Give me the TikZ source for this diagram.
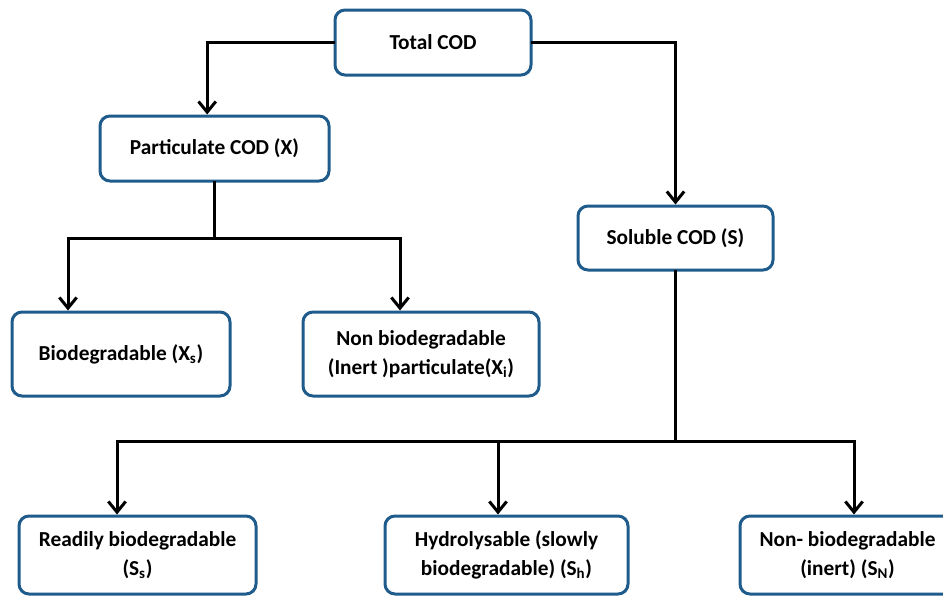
\documentclass[tikz,border=0pt]{standalone}
\usepackage{fontspec}
\setmainfont{Carlito}
\usetikzlibrary{arrows.meta}
\definecolor{boxblue}{RGB}{31,92,140}
\tikzset{every picture/.style={line width=0.75pt}}
\tikzset{
	codbox/.style={draw=boxblue, line width=2.25pt, rounded corners=7.5pt, fill=white, align=center, inner sep=0pt, font=\fontsize{16}{21.5}\selectfont\bfseries},
	bus/.style={line width=2.25pt, line cap=rect},
	flow/.style={bus, -{Straight Barb[length=8pt,width=13pt]}}}

\begin{document}
\begin{tikzpicture}[x=0.75pt,y=0.75pt,yscale=-1,xscale=1]
	\useasboundingbox (0,0) rectangle (943,596);

	% Text Node
	\node[codbox, minimum width=147pt, minimum height=48.75pt] (total) at (433,42.5) {Total COD};
	% Text Node
	\node[codbox, minimum width=171.75pt, minimum height=48.75pt] (partic) at (214.5,148.5) {Particulate COD (X)};
	% Text Node
	\node[codbox, minimum width=146.25pt, minimum height=48pt] (soluble) at (675.5,238) {Soluble COD (S)};
	% Text Node
	\node[codbox, minimum width=163.5pt, minimum height=63pt] (bio) at (121,354) {Biodegradable (X\textsubscript{s})};
	% Text Node
	\node[codbox, minimum width=177pt, minimum height=63pt] (nonbio) at (421,354) {Non biodegradable\\(Inert )particulate(X\textsubscript{i})};
	% Text Node
	\node[codbox, minimum width=177.75pt, minimum height=58.5pt] (ready) at (137.5,555) {Readily biodegradable\\(S\textsubscript{s})};
	% Text Node
	\node[codbox, minimum width=182.25pt, minimum height=58.5pt] (hydro) at (506.5,555) {Hydrolysable (slowly\\biodegradable) (S\textsubscript{h})};
	% Text Node
	\node[codbox, minimum width=161.25pt, minimum height=58.5pt] (inert) at (847.5,555) {Non- biodegradable\\(inert) (S\textsubscript{N})};

	%Straight Lines
	\draw[flow] (total.west) -| ([xshift=-5.5pt]partic.north);
	\draw[flow] (total.east) -| (soluble.north);

	%Straight Lines
	\coordinate (xl) at (68,238);
	\coordinate (xr) at (400,238);
	\draw[bus] (partic.south) -- (partic.south |- xl);
	\draw[bus] (xl) -- (xr);
	\draw[flow] (xl) -- (xl |- bio.north);
	\draw[flow] (xr) -- (xr |- nonbio.north);

	%Straight Lines
	\coordinate (sl) at (117,441);
	\coordinate (sm) at (498,441);
	\coordinate (sr) at (854,441);
	\draw[bus] (soluble.south) -- (soluble.south |- sl);
	\draw[bus] (sl) -- (sr);
	\draw[flow] (sl) -- (sl |- ready.north);
	\draw[flow] (sm) -- (sm |- hydro.north);
	\draw[flow] (sr) -- (sr |- inert.north);

\end{tikzpicture}
\end{document}
